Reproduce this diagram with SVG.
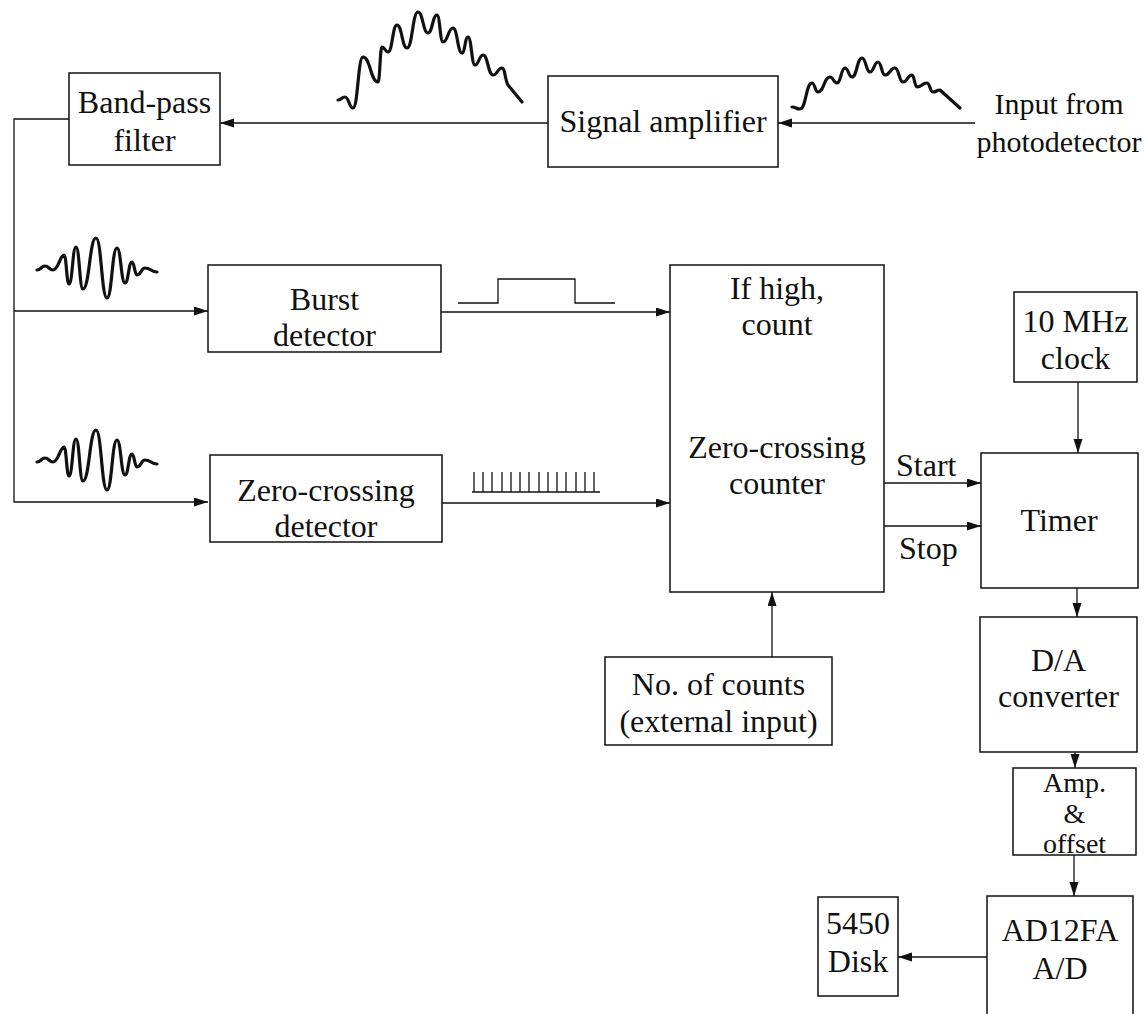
<svg xmlns="http://www.w3.org/2000/svg" width="1145" height="1014" viewBox="0 0 1145 1014">
<defs>
<style>
.box{fill:#fff;stroke:#111;stroke-width:1.5}
.ln{fill:none;stroke:#111;stroke-width:1.3}
.wave{fill:none;stroke:#111;stroke-width:3.2;stroke-linejoin:round;stroke-linecap:round}
.sig{fill:none;stroke:#111;stroke-width:1.3}
text{font-family:"Liberation Serif","Times New Roman",serif;font-size:32px;fill:#111;text-anchor:middle}
.l{text-anchor:start}
.s30{font-size:30px}
.s28{font-size:28px}
</style>
<marker id="ah" markerUnits="userSpaceOnUse" markerWidth="15" markerHeight="10" refX="14" refY="4.5" orient="auto">
<path d="M0,0 L14,4.5 L0,9 z" fill="#111"/>
</marker>
</defs>
<rect width="1145" height="1014" fill="#fff"/>

<g id="connectors">
<path class="ln" d="M975,123 H778" marker-end="url(#ah)"/>
<path class="ln" d="M548,123 H220" marker-end="url(#ah)"/>
<path class="ln" d="M69,119 H14 V502 H208" marker-end="url(#ah)"/>
<path class="ln" d="M14,311 H208" marker-end="url(#ah)"/>
<path class="ln" d="M441,312 H670" marker-end="url(#ah)"/>
<path class="ln" d="M442,503 H670" marker-end="url(#ah)"/>
<path class="ln" d="M884,483 H981" marker-end="url(#ah)"/>
<path class="ln" d="M884,526 H981" marker-end="url(#ah)"/>
<path class="ln" d="M772,657 V592" marker-end="url(#ah)"/>
<path class="ln" d="M1078,382 V453" marker-end="url(#ah)"/>
<path class="ln" d="M1077,588 V617" marker-end="url(#ah)"/>
<path class="ln" d="M1075,752 V768" marker-end="url(#ah)"/>
<path class="ln" d="M1074,855 V896" marker-end="url(#ah)"/>
<path class="ln" d="M987,957 H898" marker-end="url(#ah)"/>
<text class="l" x="896" y="476">Start</text>
<text class="l" x="899" y="559">Stop</text>
</g>

<g id="waveforms">
<path class="wave" d="M338,100 C341.5,100 341.5,97 345,97 C349,97 349,108 353,108 C358,108 358,57 363,57 C370.5,57 370.5,82 378,82 C380,82 380,47 382,47 C385,47 385,52 388,52 C392.5,52 392.5,25 397,25 C402,25 402,48 407,48 C412.5,48 412.5,12 418,12 C423,12 423,33 428,33 C432.5,33 432.5,15 437,15 C440,15 440,42 443,42 C448,42 448,28 453,28 C457.5,28 457.5,53 462,53 C465,53 465,37 468,37 C471.5,37 471.5,65 475,65 C479,65 479,55 483,55 C488,55 488,75 493,75 C497.5,75 497.5,68 502,68 C505,68 505,80 508,85 L522,102"/>
<path class="wave" d="M792,107 C796,107 796,109 800,109 C806,109 806,83 812,83 C815,83 815,92 818,92 C824,92 824,77 830,77 C833.5,77 833.5,83 837,83 C841,83 841,68 845,68 C848.5,68 848.5,77 852,77 C857,77 857,58 862,58 C866,58 866,72 870,72 C874,72 874,62 878,62 C881.5,62 881.5,75 885,75 C890,75 890,68 895,68 C899,68 899,82 903,82 C907.5,82 907.5,75 912,75 C914.5,75 914.5,87 917,87 C922,87 922,83 927,83 C930,83 930,92 933,92 C936.5,92 936.5,90 940,90 L960,108"/>
<path id="burstwave" class="wave" d="M37,270 C41,270 41,266 45,266 C49,266 49,270 53,270 C58.5,270 60,255 64,255 C66.5,255 66.5,284 69,284 C72.5,284 72.5,247 76,247 C79.5,247 79.5,289 83,289 C89.5,289 89.5,238 96,238 C101.5,238 101.5,298 107,298 C112,298 112,248 117,248 C121,248 121,283 125,283 C128.5,283 128.5,262 132,262 C134.5,262 134.5,275 137,275 C141,275 141,268 145,268 C151,268 151,272 157,272"/>
<use href="#burstwave" transform="translate(0,192)"/>
<path class="sig" d="M458,303 H498 V279 H575 V303 H615"/>
<path class="sig" d="M472,492 H600 M474,472 V492 M483,472 V492 M492,472 V492 M502,472 V492 M511,472 V492 M520,472 V492 M529,472 V492 M539,472 V492 M548,472 V492 M557,472 V492 M566,472 V492 M576,472 V492 M585,472 V492 M594,472 V492"/>
</g>

<g id="input">
<text class="s30" x="1059" y="114">Input from</text>
<text class="s30" x="1059" y="152">photodetector</text>
</g>

<g id="bandpass">
<rect class="box" x="69" y="73" width="151" height="92"/>
<text x="144.5" y="113">Band-pass</text>
<text x="144.5" y="151">filter</text>
</g>

<g id="amplifier">
<rect class="box" x="548" y="76" width="230" height="91"/>
<text x="663" y="132">Signal amplifier</text>
</g>

<g id="burst">
<rect class="box" x="208" y="265" width="233" height="87"/>
<text x="324.5" y="310">Burst</text>
<text x="324.5" y="346">detector</text>
</g>

<g id="zcdetector">
<rect class="box" x="210" y="455" width="232" height="87"/>
<text x="326" y="501">Zero-crossing</text>
<text x="326" y="537">detector</text>
</g>

<g id="counter">
<rect class="box" x="670" y="265" width="214" height="327"/>
<text x="777" y="299">If high,</text>
<text x="777" y="335">count</text>
<text x="777" y="458">Zero-crossing</text>
<text x="777" y="494">counter</text>
</g>

<g id="counts">
<rect class="box" x="605" y="657" width="227" height="88"/>
<text x="718.5" y="695">No. of counts</text>
<text x="718.5" y="732">(external input)</text>
</g>

<g id="clock">
<rect class="box" x="1014" y="292" width="123" height="90"/>
<text x="1075.5" y="332">10 MHz</text>
<text x="1075.5" y="369">clock</text>
</g>

<g id="timer">
<rect class="box" x="981" y="453" width="157" height="135"/>
<text x="1059" y="531">Timer</text>
</g>

<g id="dac">
<rect class="box" x="980" y="617" width="157" height="135"/>
<text x="1058.5" y="671">D/A</text>
<text x="1058.5" y="707">converter</text>
</g>

<g id="ampoffset">
<rect class="box" x="1013" y="768" width="123" height="87"/>
<text class="s28" x="1074.5" y="792">Amp.</text>
<text class="s28" x="1074.5" y="823">&amp;</text>
<text class="s28" x="1074.5" y="853">offset</text>
</g>

<g id="adc">
<path class="box" d="M987,1016 V896 H1133 V1016"/>
<text x="1060" y="941">AD12FA</text>
<text x="1060" y="979">A/D</text>
</g>

<g id="disk">
<rect class="box" x="818" y="897" width="80" height="99"/>
<text x="858" y="934">5450</text>
<text x="858" y="972">Disk</text>
</g>
</svg>
